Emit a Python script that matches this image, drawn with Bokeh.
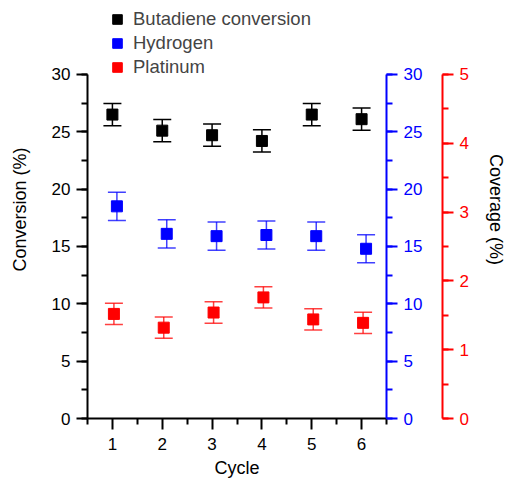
from bokeh.plotting import figure
from bokeh.models import (ColumnDataSource, Range1d, LinearAxis, Whisker, TeeHead,
                          FixedTicker, SingleIntervalTicker, Legend, LegendItem)
from bokeh.transform import dodge
from bokeh.embed import file_html
from bokeh.resources import INLINE

cycles = [1, 2, 3, 4, 5, 6]
butadiene = [26.5, 25.1, 24.7, 24.2, 26.5, 26.1]
butadiene_err = [0.97, 0.97, 0.97, 0.97, 0.97, 0.97]
hydrogen = [18.5, 16.1, 15.9, 16.0, 15.9, 14.8]
hydrogen_err = [1.23, 1.23, 1.23, 1.23, 1.23, 1.23]
platinum = [1.52, 1.32, 1.54, 1.76, 1.44, 1.39]
platinum_err = [0.155, 0.155, 0.155, 0.155, 0.155, 0.155]
x_ticks = [1, 2, 3, 4, 5, 6]
x_minor = [0.5, 1.5, 2.5, 3.5, 4.5, 5.5, 6.5]
conv_max = 30
cov_max = 5

FONT = "Liberation Sans"
# frame extends above the axes to make room for the legend (axes drawn with bounds)
FRAME_H = 418.3
AXIS_H = 344.3
ext = FRAME_H / AXIS_H

def src(vals, errs):
    return ColumnDataSource(dict(cycle=cycles, y=vals,
                                 lo=[v - e for v, e in zip(vals, errs)],
                                 hi=[v + e for v, e in zip(vals, errs)]))

s_b = src(butadiene, butadiene_err)
s_h = src(hydrogen, hydrogen_err)
s_p = src(platinum, platinum_err)

p = figure(width=508, height=480, output_backend="svg", toolbar_location=None,
           x_range=Range1d(0.5, 6.5), y_range=Range1d(0, conv_max * ext),
           min_border_left=87, min_border_top=0, min_border_right=121, min_border_bottom=62)
p.extra_y_ranges = {"hyd": Range1d(0, conv_max * ext), "cov": Range1d(0, cov_max * ext)}
p.grid.visible = False
p.outline_line_color = None
p.background_fill_color = "white"
p.border_fill_color = "white"

def style_axis(ax, color):
    ax.axis_line_color = color
    ax.axis_line_width = 2
    ax.major_tick_line_color = color
    ax.major_tick_line_width = 2
    ax.minor_tick_line_color = color
    ax.minor_tick_line_width = 2
    ax.major_tick_in = 0
    ax.major_tick_out = 11
    ax.minor_tick_in = 0
    ax.minor_tick_out = 6
    ax.major_label_text_color = color
    ax.major_label_text_font = FONT
    ax.major_label_text_font_size = "17px"
    ax.major_label_standoff = 6
    ax.axis_label_text_color = "black"
    ax.axis_label_text_font = FONT
    ax.axis_label_text_font_size = "18px"
    ax.axis_label_text_font_style = "normal"

xa = p.xaxis[0]
xa.ticker = FixedTicker(ticks=x_ticks, minor_ticks=x_minor)
xa.axis_label = "Cycle"
style_axis(xa, "black")
xa.major_label_standoff = 8
xa.axis_label_standoff = 5

ya = p.yaxis[0]
ya.ticker = SingleIntervalTicker(interval=5, num_minor_ticks=2)
ya.bounds = (0, conv_max)
ya.axis_label = "Conversion (%)"
style_axis(ya, "black")
ya.axis_label_standoff = 19

ax_h = LinearAxis(y_range_name="hyd", ticker=SingleIntervalTicker(interval=5, num_minor_ticks=2),
                  bounds=(0, conv_max))
style_axis(ax_h, "blue")
ax_h.axis_label = "\u00a0"
ax_h.axis_label_text_font_size = "9px"
ax_h.axis_label_standoff = 4
p.add_layout(ax_h, "right")

ax_c = LinearAxis(y_range_name="cov", ticker=SingleIntervalTicker(interval=1, num_minor_ticks=2),
                  bounds=(0, cov_max))
style_axis(ax_c, "red")
ax_c.axis_label = "Coverage (%)"
ax_c.axis_label_standoff = 14
p.add_layout(ax_c, "right")

def series(source, color, off, rng, err_alpha):
    w = Whisker(base=dodge("cycle", off), upper="hi", lower="lo", source=source,
                dimension="height", line_color=color, line_width=1.5, line_alpha=err_alpha,
                upper_head=TeeHead(size=18, line_color=color, line_width=1.5, line_alpha=err_alpha),
                lower_head=TeeHead(size=18, line_color=color, line_width=1.5, line_alpha=err_alpha))
    if rng:
        w.y_range_name = rng
    p.add_layout(w)
    kw = dict(y_range_name=rng) if rng else {}
    r = p.rect(x=dodge("cycle", off), y="y", width=11, height=11, width_units="screen",
               height_units="screen", fill_color=color, line_color=color, source=source, **kw)
    return r

r_b = series(s_b, "black", 0.0, None, 1.0)
r_h = series(s_h, "blue", 0.09, "hyd", 0.75)
r_p = series(s_p, "red", 0.03, "cov", 0.75)

legend = Legend(items=[LegendItem(label="Butadiene conversion", renderers=[r_b]),
                       LegendItem(label="Hydrogen", renderers=[r_h]),
                       LegendItem(label="Platinum", renderers=[r_p])],
                location=(24, 340), orientation="vertical",
                glyph_width=12, glyph_height=12, label_height=20, spacing=2,
                padding=0, margin=0, label_standoff=10,
                label_text_font=FONT, label_text_font_size="18.5px",
                border_line_color=None, background_fill_alpha=0)
p.add_layout(legend, "center")

open("out.html", "w").write(file_html(p, INLINE))
